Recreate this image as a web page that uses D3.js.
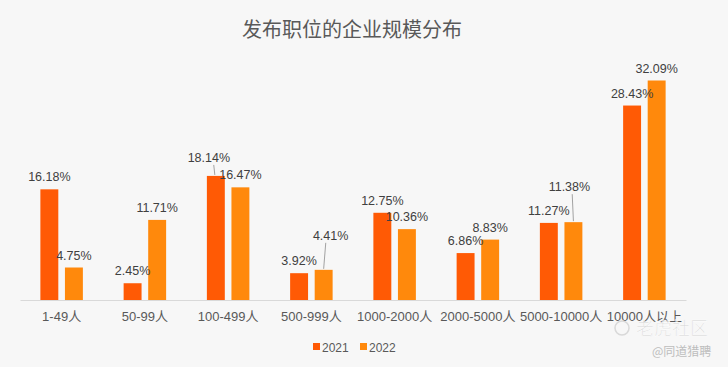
<!DOCTYPE html>
<html>
<head>
<meta charset="utf-8">
<script src="https://cdn.jsdelivr.net/npm/d3@7"></script>
<style>
  html, body { margin: 0; padding: 0; background: #f7f7f7; }
  svg { display: block; font-family: "Liberation Sans", Arial, "Noto Sans CJK SC", sans-serif; }
</style>
</head>
<body>
<div id="chart"></div>
<script>
// data
var categories = ["1-49人", "50-99人", "100-499人", "500-999人", "1000-2000人", "2000-5000人", "5000-10000人", "10000人以上"];
var years = ["2021", "2022"];
var values2021 = [16.18, 2.45, 18.14, 3.92, 12.75, 6.86, 11.27, 28.43];
var values2022 = [4.75, 11.71, 16.47, 4.41, 10.36, 8.83, 11.38, 32.09];

// label nudges (px) where the original labels were moved off the bar
var labelShift2021 = [[0, 0], [0, 0], [-7, -6], [0, 0], [0, 0], [0, 0], [0, 0], [0, 0]];
var labelShift2022 = [[0, 0], [0, 0], [0, 0], [7, -22], [0, 0], [0, 0], [-4, -23], [0, 0]];

var width = 728, height = 367;
var colors = { "2021": "#ff5a05", "2022": "#ff890c" };

var svg = d3.select("#chart").append("svg")
    .attr("width", width)
    .attr("height", height);

svg.append("rect")
    .attr("width", width).attr("height", height)
    .attr("fill", "#f7f7f7");

// title
svg.append("text")
    .attr("x", 352)
    .attr("y", 37)
    .attr("text-anchor", "middle")
    .style("font-size", "20px")
    .style("font-family", "'Noto Sans CJK SC', sans-serif")
    .style("fill", "#595959")
    .text("发布职位的企业规模分布");

var x = d3.scaleBand()
    .domain(categories)
    .range([20, 686]);

var xInner = d3.scaleBand()
    .domain(years)
    .range([x.bandwidth() / 2 - 21.25, x.bandwidth() / 2 + 21.25])
    .paddingInner(0.27);

var y = d3.scaleLinear()
    .domain([0, 32.09])
    .range([300, 80.5]);

// axis
var xAxis = svg.append("g")
    .attr("transform", "translate(0,300)")
    .call(d3.axisBottom(x).tickSize(0).tickPadding(12));
xAxis.select(".domain").attr("stroke", "#d9d9d9");
xAxis.selectAll("text")
    .style("font-size", "13px")
    .style("font-family", "'Liberation Sans', 'Noto Sans CJK SC', sans-serif")
    .style("fill", "#595959");

var rows = categories.map(function(c, i) {
    return [
        { cat: c, year: "2021", v: values2021[i], shift: labelShift2021[i] },
        { cat: c, year: "2022", v: values2022[i], shift: labelShift2022[i] }
    ];
});

var groups = svg.selectAll(".grp")
    .data(rows)
    .enter().append("g")
    .attr("class", "grp")
    .attr("transform", function(d) { return "translate(" + x(d[0].cat) + ",0)"; });

groups.selectAll("rect")
    .data(function(d) { return d; })
    .enter().append("rect")
    .attr("x", function(d) { return xInner(d.year); })
    .attr("y", function(d) { return y(d.v); })
    .attr("width", xInner.bandwidth())
    .attr("height", function(d) { return 300 - y(d.v); })
    .attr("fill", function(d) { return colors[d.year]; });

// leader lines for the moved labels
groups.selectAll("line")
    .data(function(d) { return d.filter(function(e) { return e.shift[1] !== 0; }); })
    .enter().append("line")
    .attr("x1", function(d) { return xInner(d.year) + xInner.bandwidth() / 2 + d.shift[0] * 0.3; })
    .attr("y1", function(d) { return y(d.v) + d.shift[1] - 5; })
    .attr("x2", function(d) { return xInner(d.year) + xInner.bandwidth() / 2 + (d.year === "2022" ? 0 : -1); })
    .attr("y2", function(d) { return y(d.v) - 1; })
    .attr("stroke", "#8c8c8c")
    .attr("stroke-width", 0.8);

groups.selectAll("text.lbl")
    .data(function(d) { return d; })
    .enter().append("text")
    .attr("class", "lbl")
    .attr("x", function(d) { return xInner(d.year) + xInner.bandwidth() / 2 + d.shift[0]; })
    .attr("y", function(d) { return y(d.v) - 8 + d.shift[1]; })
    .attr("text-anchor", "middle")
    .style("font-size", "12.5px")
    .style("fill", "#404040")
    .text(function(d) { return d.v.toFixed(2) + "%"; });

// legend
var legend = svg.append("g").attr("transform", "translate(313,347)");
years.forEach(function(yr, i) {
    var g = legend.append("g").attr("transform", "translate(" + (i * 47) + ",0)");
    g.append("rect")
        .attr("x", 0).attr("y", -4)
        .attr("width", 7).attr("height", 7)
        .attr("fill", colors[yr]);
    g.append("text")
        .attr("x", 9).attr("y", 4.5)
        .style("font-size", "12px")
        .style("fill", "#595959")
        .text(yr);
});

// watermark
var wm = svg.append("g").style("opacity", 0.75);
wm.append("circle")
    .attr("cx", 622).attr("cy", 328).attr("r", 7)
    .attr("fill", "none").attr("stroke", "#cfcfcf").attr("stroke-width", 1.5);
wm.append("text")
    .attr("x", 636).attr("y", 335)
    .style("font-size", "18px")
    .style("font-family", "'Noto Sans CJK SC', sans-serif")
    .style("fill", "#d0d0d0")
    .style("stroke", "#ffffff").style("stroke-width", 0.6)
    .text("老虎社区");
svg.append("text")
    .attr("x", 652).attr("y", 356)
    .style("font-size", "12px")
    .style("font-family", "'Noto Sans CJK SC', sans-serif")
    .style("fill", "#bdbdbd")
    .text("@同道猎聘");
</script>
</body>
</html>
